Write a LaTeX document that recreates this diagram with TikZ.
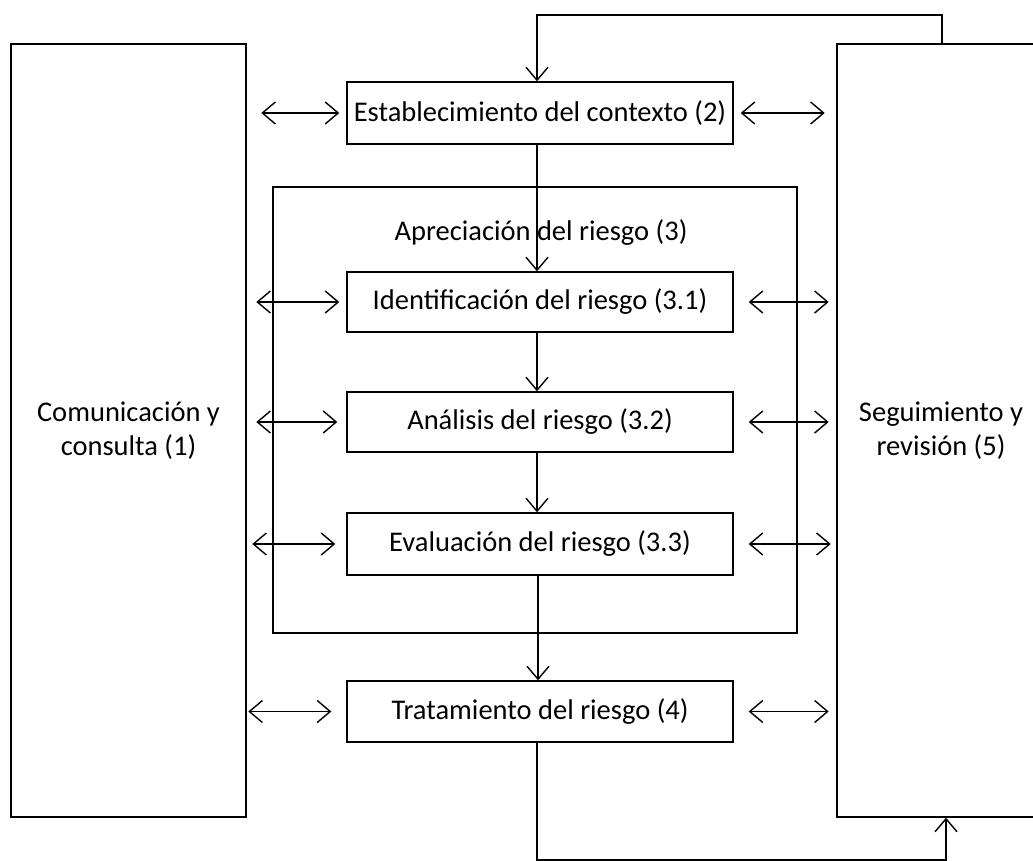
\documentclass[tikz,border=0pt]{standalone}
\usepackage{fontspec}
\setmainfont{Carlito}
\usetikzlibrary{arrows.meta,calc}

\begin{document}
\begin{tikzpicture}[x=1pt,y=-1pt,
    line width=1.4pt,
    every node/.style={font=\fontsize{28.5}{34}\selectfont},
    stepbox/.style={draw, rectangle, inner sep=0pt,
      minimum width=386pt, minimum height=61pt},
    sidebox/.style={draw, rectangle, inner sep=0pt, align=center,
      minimum height=773pt},
    tip/.tip={Straight Barb[length=13pt,width=22pt,line width=1.4pt]},
    arr/.style={-tip},
    biarr/.style={tip-tip}
  ]
  \clip (0,0) rectangle (1033,861);
  \useasboundingbox (0,0) rectangle (1033,861);

  % side columns
  \node[sidebox, minimum width=235pt] (com) at (128.5,430.5)
    {Comunicación y\\consulta (1)};
  \node[sidebox, minimum width=208pt] (seg) at (941,430.5)
    {Seguimiento y\\revisión (5)};

  % risk assessment frame
  \node[draw, rectangle, inner sep=0pt, minimum width=524pt,
        minimum height=446pt] (apr) at (535,410) {};
  \node (aprlbl) at (541,233) {Apreciación del riesgo (3)};

  % process steps
  \node[stepbox, minimum height=62pt] (est) at (540,113)
    {Establecimiento del contexto (2)};
  \node[stepbox, minimum height=60pt] (ide) at (540,302)
    {Identificación del riesgo (3.1)};
  \node[stepbox, minimum height=60pt] (ana) at (540,422)
    {Análisis del riesgo (3.2)};
  \node[stepbox, minimum height=62pt] (eva) at (540,544)
    {Evaluación del riesgo (3.3)};
  \node[stepbox, minimum height=61pt] (tra) at (540,711.5)
    {Tratamiento del riesgo (4)};

  % main flow
  \draw[arr] ($(est.south)+(-3,0)$) -- ($(ide.north)+(-3,0)$);
  \draw[arr] ($(ide.south)+(-3,0)$) -- ($(ana.north)+(-3,0)$);
  \draw[arr] ($(ana.south)+(-3,0)$) -- ($(eva.north)+(-3,0)$);
  \draw[arr] ($(eva.south)+(-2,0)$) -- ($(tra.north)+(-2,0)$);

  % feedback loops
  \coordinate (t1) at (942,15);
  \coordinate (t2) at (537,15);
  \draw[arr] (seg.north -| t1) -- (t1) -- (t2) -- (est.north -| t2);
  \coordinate (b0) at ($(tra.south)+(-3,0)$);
  \coordinate (b1) at (946,860);
  \draw[arr] (b0) -- (b0 |- b1) -- (b1) -- (seg.south -| b1);

  % communication links
  \draw[biarr] ($(est.west)+(-85,0)$) -- ($(est.west)+(-7,0)$);
  \draw[biarr] ($(ide.west)+(-90,0)$) -- ($(ide.west)+(-7,0)$);
  \draw[biarr] ($(ana.west)+(-90,0)$) -- ($(ana.west)+(-9,0)$);
  \draw[biarr] ($(eva.west)+(-94,0)$) -- ($(eva.west)+(-11,0)$);
  \draw[biarr] ($(tra.west)+(-98,0)$) -- ($(tra.west)+(-15,0)$);

  % monitoring links
  \draw[biarr] ($(est.east)+(7,0)$) -- ($(est.east)+(91,0)$);
  \draw[biarr] ($(ide.east)+(15,0)$) -- ($(ide.east)+(95,0)$);
  \draw[biarr] ($(ana.east)+(15,0)$) -- ($(ana.east)+(95,0)$);
  \draw[biarr] ($(eva.east)+(15,0)$) -- ($(eva.east)+(97,0)$);
  \draw[biarr] ($(tra.east)+(15,0)$) -- ($(tra.east)+(95,0)$);
\end{tikzpicture}
\end{document}
